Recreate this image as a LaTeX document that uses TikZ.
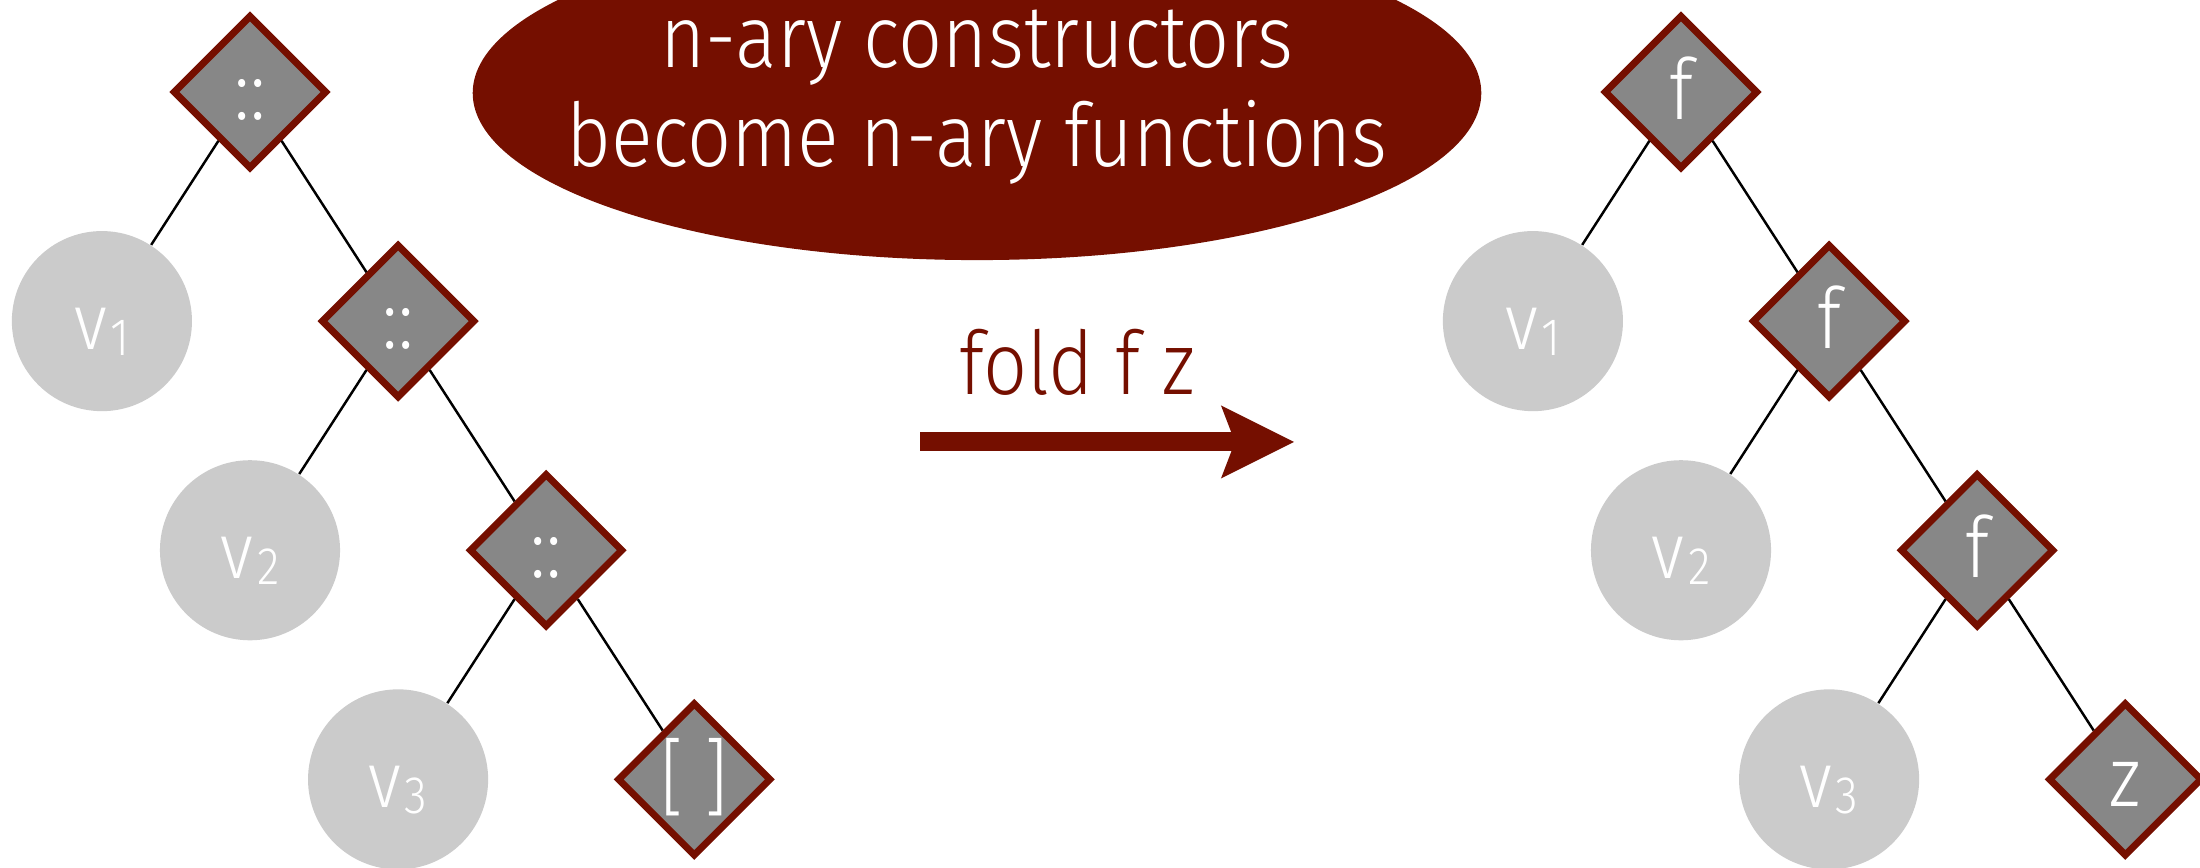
\documentclass[tikz,border=0pt]{standalone}
\usepackage{fontspec}
\setmainfont{Fira Sans Light}[FakeStretch=0.88]
\usepackage{tikz}
\usetikzlibrary{arrows.meta, positioning, shapes.geometric}
\definecolor{FoldRed}{RGB}{117, 15, 0}
\definecolor{ConsGray}{RGB}{135, 135, 135}
\definecolor{LeafGray}{RGB}{203, 203, 203}
\newcommand{\leafname}[1]{v\kern1pt\raisebox{-1.7pt}{\fontsize{15}{15}\selectfont #1}}
\tikzset{
    every node/.style={font=\fontsize{24}{28}\selectfont},
    cons/.style={diamond, aspect=1, draw=FoldRed, line width=0.07cm, line join=miter,
        fill=ConsGray, minimum size=1.54cm, inner sep=0pt, text=white,
        text height=15.4pt, text depth=0pt},
    leaf/.style={circle, fill=LeafGray, minimum size=1.8cm, inner sep=0pt, text=white,
        font=\fontsize{22.5}{26}\selectfont, text height=16pt, text depth=0pt},
    branch/.style={black, line width=0.7pt},
    bubble/.style={ellipse, fill=FoldRed, minimum width=10.08cm, minimum height=3.34cm, inner sep=0pt},
    foldarrow/.style={FoldRed, line width=0.19cm, line cap=butt,
        -{Stealth[length=0.73cm, width=0.73cm, inset=0.14cm, line width=0pt]}}
}

\begin{document}
\begin{tikzpicture}[x=0.01cm, y=-0.01cm, on grid]
    \useasboundingbox (0,0) rectangle (2200,868);

    % list built from (::) and []
    \node [cons] (cons1) at (250,92) {::};
    \node [leaf, below left=2.29cm and 1.48cm of cons1] (lleaf1) {\leafname{1}};
    \node [cons, below right=2.29cm and 1.48cm of cons1] (cons2) {::};
    \node [leaf, below left=2.29cm and 1.48cm of cons2] (lleaf2) {\leafname{2}};
    \node [cons, below right=2.29cm and 1.48cm of cons2] (cons3) {::};
    \node [leaf, below left=2.29cm and 1.48cm of cons3] (lleaf3) {\leafname{3}};
    \node [cons, below right=2.29cm and 1.48cm of cons3] (nil) {[ ]};
    \draw [branch] (cons1) -- (lleaf1);
    \draw [branch] (cons1) -- (cons2);
    \draw [branch] (cons2) -- (lleaf2);
    \draw [branch] (cons2) -- (cons3);
    \draw [branch] (cons3) -- (lleaf3);
    \draw [branch] (cons3) -- (nil);

    % same shape after the fold
    \node [cons] (fun1) at (1681,92) {f};
    \node [leaf, below left=2.29cm and 1.48cm of fun1] (rleaf1) {\leafname{1}};
    \node [cons, below right=2.29cm and 1.48cm of fun1] (fun2) {f};
    \node [leaf, below left=2.29cm and 1.48cm of fun2] (rleaf2) {\leafname{2}};
    \node [cons, below right=2.29cm and 1.48cm of fun2] (fun3) {f};
    \node [leaf, below left=2.29cm and 1.48cm of fun3] (rleaf3) {\leafname{3}};
    \node [cons, below right=2.29cm and 1.48cm of fun3] (zero) {z};
    \draw [branch] (fun1) -- (rleaf1);
    \draw [branch] (fun1) -- (fun2);
    \draw [branch] (fun2) -- (rleaf2);
    \draw [branch] (fun2) -- (fun3);
    \draw [branch] (fun3) -- (rleaf3);
    \draw [branch] (fun3) -- (zero);

    % speech bubble and the fold arrow
    \node [bubble] (bubble) at (977,93) {};
    \node [text=white, align=center, font=\fontsize{25}{28}\selectfont] (motto) at ([yshift=-0.04cm]bubble.center)
        {n-ary constructors\\become n-ary functions};
    \coordinate (foldstart) at (920,442);
    \coordinate (foldend) at (1294,442);
    \draw [foldarrow] (foldstart) -- (foldend);
    \node [anchor=base, text=FoldRed, font=\fontsize{25}{28}\selectfont] (foldlabel) at (1077,395) {fold f z};
\end{tikzpicture}
\end{document}
